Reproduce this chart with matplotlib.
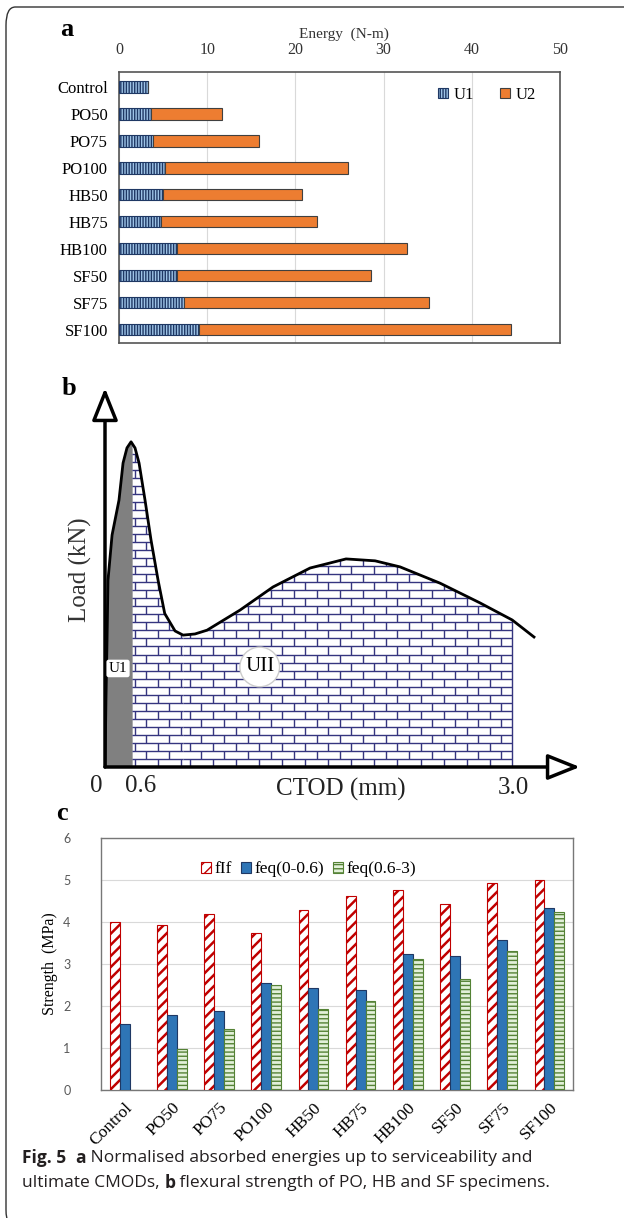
import numpy as np
import matplotlib
matplotlib.use("Agg")
import matplotlib.pyplot as plt
from matplotlib.patches import Polygon, FancyBboxPatch
from matplotlib.collections import LineCollection

# ---- data ----
cats = ['Control', 'PO50', 'PO75', 'PO100', 'HB50', 'HB75', 'HB100', 'SF50', 'SF75', 'SF100']
# panel a: absorbed energies (N-m)
u1 = [3.3, 3.6, 3.8, 5.2, 5.0, 4.8, 6.6, 6.6, 7.4, 9.1]
u2 = [0.0, 8.1, 12.1, 20.8, 15.8, 17.6, 26.1, 22.0, 27.7, 35.3]
energy_ticks = [0, 10, 20, 30, 40, 50]

# panel b: schematic load-CTOD curve
ctod = [0.000, 0.007, 0.015, 0.022, 0.052, 0.103, 0.133, 0.162, 0.192, 0.221,
        0.251, 0.295, 0.339, 0.391, 0.440, 0.516, 0.575, 0.663, 0.752, 0.995,
        1.238, 1.511, 1.776, 1.990, 2.174, 2.469, 2.763, 3.000, 3.161]
load = [0.000, 0.177, 0.335, 0.493, 0.612, 0.704, 0.802, 0.842, 0.858, 0.842,
        0.802, 0.704, 0.599, 0.493, 0.405, 0.359, 0.348, 0.351, 0.361, 0.414,
        0.475, 0.525, 0.549, 0.544, 0.528, 0.485, 0.433, 0.388, 0.343]
u1_end = 0.2     # end of U1 (labelled 0.6)
mid_end = 0.575
u2_end = 3.0     # labelled 3.0

# panel c: strengths (MPa)
flf = [4.00, 3.92, 4.18, 3.73, 4.29, 4.63, 4.76, 4.42, 4.92, 5.00]
feq1 = [1.58, 1.79, 1.87, 2.55, 2.42, 2.37, 3.24, 3.18, 3.58, 4.34]
feq2 = [0.0, 0.97, 1.46, 2.51, 1.93, 2.11, 3.13, 2.64, 3.31, 4.25]

serif = 'Liberation Serif'
plt.rcParams['font.family'] = serif
plt.rcParams['hatch.linewidth'] = 1.0

W, H = 624, 1218
fig = plt.figure(figsize=(W / 100, H / 100), dpi=100)

def box(l, t, r, b):
    return [l / W, 1 - b / H, (r - l) / W, (b - t) / H]

# rounded border
fig.patches.append(FancyBboxPatch((6 / W, -10 / H), 640 / W, (H - 7 + 10) / H,
                                  boxstyle='round,pad=0,rounding_size=0.015',
                                  transform=fig.transFigure, fc='none', ec='#333333', lw=1.0))

# ---------------- panel a ----------------
axa = fig.add_axes(box(119, 72, 560, 343))
y = np.arange(len(cats))
axa.barh(y, u1, height=0.43, color='#9dc3e6', edgecolor='#1f3864', hatch='||||||', lw=0.8, label='U1', zorder=3)
axa.barh(y, u2, left=u1, height=0.43, color='#ed7d31', edgecolor='#404040', lw=0.8, label='U2', zorder=3)
axa.set_xlim(0, 50)
axa.set_ylim(9.5, -0.55)
axa.set_yticks(y)
axa.set_yticklabels(cats, fontsize=12)
axa.set_xticks(energy_ticks)
axa.xaxis.tick_top()
axa.tick_params(axis='x', labelsize=11.5, length=0, pad=10, labelcolor='#333333')
axa.tick_params(axis='y', length=0, pad=8)
axa.grid(axis='x', color='#d9d9d9', lw=0.8, zorder=0)
for s in axa.spines.values():
    s.set_color('#555555')
    s.set_linewidth(1.2)
axa.legend(loc='upper left', bbox_to_anchor=(0.69, 1.0), ncol=2, frameon=False,
           fontsize=12, handlelength=0.6, handleheight=0.6, handletextpad=0.3, columnspacing=1.6)
fig.text(60 / W, 1 - 30 / H, 'a', fontsize=19, fontweight='bold', va='center')
fig.text(344 / W, 1 - 34 / H, 'Energy  (N-m)', fontsize=11, ha='center', va='center', color='#333333')

# ---------------- panel b ----------------
axb = fig.add_axes(box(105, 388, 580, 767))
axb.set_xlim(0, 3.5)
axb.set_ylim(0, 1)
axb.axis('off')
cx = np.array(ctod)
cl = np.array(load)
area = Polygon(np.column_stack([np.r_[cx[cx <= u2_end], u2_end, 0],
                                np.r_[cl[cx <= u2_end], 0, 0]]),
               closed=True, fc='white', ec='none')
axb.add_patch(area)
# grey U1 zone
mask = cx <= u1_end
gz = axb.fill_between(np.r_[cx[mask], u1_end], np.r_[cl[mask], 0.84], 0, color='#808080', lw=0, zorder=1)
gz.set_clip_path(area)

def bricks(x0, x1, off, rh=0.0212, bw=0.17):
    segs = []
    rows = int(1.0 / rh) + 1
    for i in range(rows):
        yb = i * rh
        segs.append([(x0, yb), (x1, yb)])
        xv = x0 + off + (bw / 2 if i % 2 else 0)
        while xv < x1:
            if xv > x0:
                segs.append([(xv, yb), (xv, yb + rh)])
            xv += bw
    return segs

for x0, x1, off in [(u1_end, mid_end, 0.02), (mid_end, u2_end, 0.05)]:
    lc = LineCollection(bricks(x0, x1, off), colors='#35357f', lw=1.0, zorder=2)
    axb.add_collection(lc)
    lc.set_clip_path(area)
axb.plot([u2_end, u2_end], [0, 0.388], color='#35357f', lw=1.0, zorder=2)
axb.plot(ctod, load, color='black', lw=2.0, zorder=4)
arrow_kw = dict(arrowstyle='-|>,head_length=1.0,head_width=0.4', mutation_scale=20,
                fc='white', ec='black', lw=2.5, shrinkA=0, shrinkB=0)
axb.annotate('', xy=(0, 1.0), xytext=(0, 0), arrowprops=arrow_kw, annotation_clip=False, zorder=5)
axb.annotate('', xy=(3.5, 0), xytext=(0, 0), arrowprops=arrow_kw, annotation_clip=False, zorder=5)
axb.text(0.096, 0.26, 'U1', fontsize=11, ha='center', va='center', zorder=6,
         bbox=dict(boxstyle='round,pad=0.15', fc='white', ec='none'))
axb.text(1.14, 0.264, 'UII', fontsize=15, ha='center', va='center', zorder=6,
         bbox=dict(boxstyle='circle,pad=0.25', fc='white', ec='#cccccc'))
axb.text(-0.066, -0.05, '0', fontsize=18, ha='center', va='center', color='#222222')
axb.text(0.26, -0.05, '0.6', fontsize=18, ha='center', va='center', color='#222222')
axb.text(3.01, -0.055, '3.0', fontsize=18, ha='center', va='center', color='#222222')
axb.text(1.74, -0.06, 'CTOD (mm)', fontsize=18, ha='center', va='center', color='#222222')
axb.text(-0.184, 0.52, 'Load (kN)', fontsize=18, ha='center', va='center', rotation=90, color='#333333')
fig.text(62 / W, 1 - 388 / H, 'b', fontsize=19, fontweight='bold', va='center')

# ---------------- panel c ----------------
axc = fig.add_axes(box(101, 838, 573, 1090))
x = np.arange(len(cats))
bw = 0.21
plt.rcParams['hatch.linewidth'] = 1.8
axc.bar(x - bw, flf, bw, color='white', edgecolor='#c00000', hatch='///', lw=0.8, label='fIf', zorder=3)
plt.rcParams['hatch.linewidth'] = 1.0
axc.bar(x, feq1, bw, color='#2e75b6', edgecolor='#1f3864', lw=0.8, label='feq(0-0.6)', zorder=3)
axc.bar(x + bw, feq2, bw, color='#e2f0d9', edgecolor='#548235', hatch='----', lw=0.8, label='feq(0.6-3)', zorder=3)
axc.set_xlim(-0.5, 9.5)
axc.set_ylim(0, 6)
axc.set_xticks(x)
axc.set_xticklabels(cats, rotation=45, ha='right', rotation_mode='anchor', fontsize=12.5)
axc.set_yticks(range(7))
axc.tick_params(axis='y', length=0, pad=22, labelsize=9, labelcolor='#595959')
for lab in axc.get_yticklabels():
    lab.set_family('Lato')
axc.tick_params(axis='x', length=0, pad=7)
axc.grid(axis='y', color='#d9d9d9', lw=0.8, zorder=0)
for s in axc.spines.values():
    s.set_color('#777777')
    s.set_linewidth(1.0)
axc.set_ylabel('Strength  (MPa)', fontsize=11.5, labelpad=4)
axc.legend(loc='upper center', bbox_to_anchor=(0.44, 0.97), ncol=3, frameon=False, fontsize=12.5,
           handlelength=0.6, handleheight=0.6, handletextpad=0.2, columnspacing=0.5)
fig.text(56 / W, 1 - 813 / H, 'c', fontsize=19, fontweight='bold', va='center')

# ---------------- caption ----------------
fig.canvas.draw()
rend = fig.canvas.get_renderer()

def line(pieces, x0, yc):
    xx = x0
    for s, bold in pieces:
        t = fig.text(xx / W, 1 - yc / H, s, fontsize=12.5, family='Open Sans',
                     fontweight='bold' if bold else 'normal', va='center', color='#231f20')
        bb = t.get_window_extent(renderer=rend)
        xx += bb.width

line([('Fig. 5', True), ('  ', False), ('a', True),
      (' Normalised absorbed energies up to serviceability and', False)], 22, 1158)
line([('ultimate CMODs, ', False), ('b', True),
      (' flexural strength of PO, HB and SF specimens.', False)], 22, 1183)

fig.savefig('out.png', dpi=100)
